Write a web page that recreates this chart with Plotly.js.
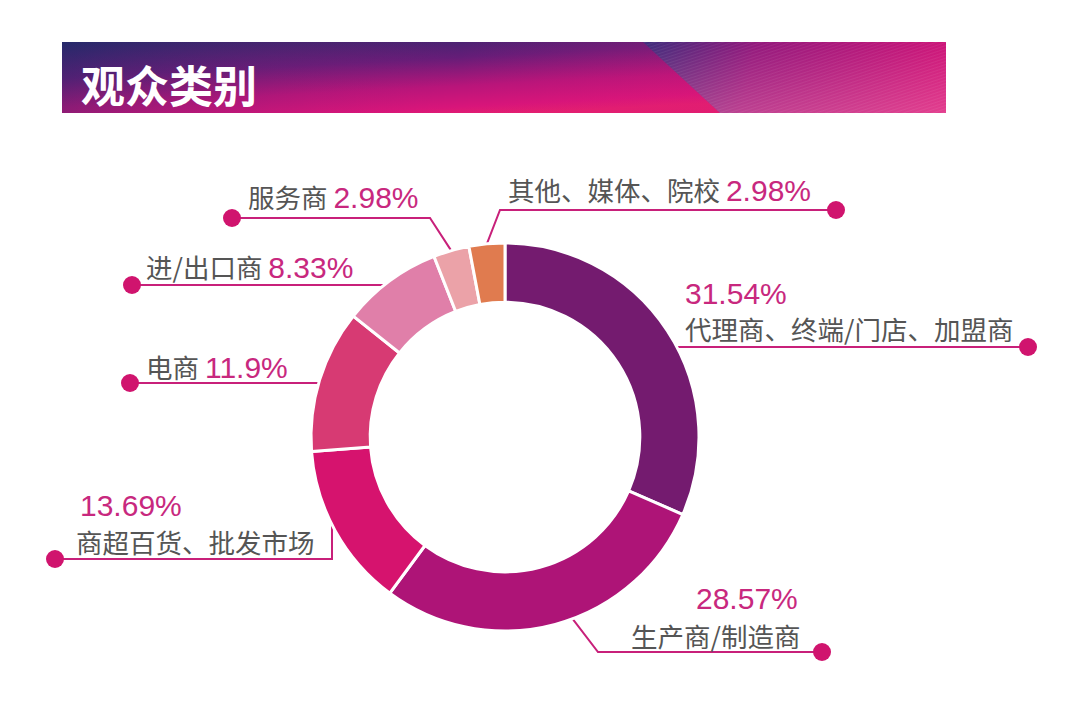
<!DOCTYPE html>
<html>
<head>
<meta charset="utf-8">
<script src="https://cdn.plot.ly/plotly-3.0.1.min.js"></script>
<style>
html, body { margin: 0; padding: 0; background: #fff; }
#chart { width: 1080px; height: 706px; }
</style>
</head>
<body>
<div id="chart"></div>
<script>
// data
const categories = ['代理商、终端/门店、加盟商', '生产商/制造商', '商超百货、批发市场', '电商', '进/出口商', '服务商', '其他、媒体、院校'];
const shares = [31.54, 28.57, 13.69, 11.9, 8.33, 2.98, 2.98];
const sliceColors = ['#741b6f', '#ae1477', '#d6136e', '#d73a73', '#e07fa9', '#eba2a8', '#e07b4f'];
const chartTitle = '观众类别';

const W = 1080, H = 706;
// donut placement (px)
const cx = 505, cy = 437, R = 194;

const nameColor = '#555555';
const pctColor = '#c8287e';
const lineColor = '#c8207a';
const dotColor = '#d0146e';

const px = x => x / W;
const py = y => 1 - y / H;

// mid angle of each slice, degrees clockwise from 12 o'clock
const total = shares.reduce((a, b) => a + b, 0);
let acc = 0;
const midAngles = shares.map(v => { const m = (acc + v / 2) / total * 360; acc += v; return m; });

function onCircleAngle(deg) {
    const a = deg * Math.PI / 180;
    return [cx + R * Math.sin(a), cy - R * Math.cos(a)];
}
function onCircleAtY(y, side) {
    return [cx + side * Math.sqrt(R * R - (y - cy) * (y - cy)), y];
}
function onCircleAtX(x) {
    return [x, cy + Math.sqrt(R * R - (x - cx) * (x - cx))];
}

// callout layout: dot, optional elbow, how the leader meets the ring, and text spots
const callouts = [
    { i: 0, dot: [1028, 347], end: () => onCircleAtY(347, 1),
      texts: [{ x: 683, y: 293, kind: 'pct', anchor: 'left' }, { x: 683, y: 328, kind: 'name', anchor: 'left' }] },
    { i: 1, dot: [822, 652], elbow: [598, 652], end: () => onCircleAngle(159.6),
      texts: [{ x: 800, y: 598, kind: 'pct', anchor: 'right' }, { x: 802, y: 635, kind: 'name', anchor: 'right' }] },
    { i: 2, dot: [55, 559], elbow: [332, 559], end: () => onCircleAtX(332),
      texts: [{ x: 78, y: 505, kind: 'pct', anchor: 'left' }, { x: 74, y: 541, kind: 'name', anchor: 'left' }] },
    { i: 3, dot: [130, 383], end: () => onCircleAtY(383, -1),
      texts: [{ x: 144, y: 366, kind: 'both', anchor: 'left' }] },
    { i: 4, dot: [132, 285], end: () => onCircleAtY(285, -1),
      texts: [{ x: 144, y: 267, kind: 'both', anchor: 'left' }] },
    { i: 5, dot: [232, 218], elbow: [430, 218], end: () => onCircleAngle(midAngles[5]),
      texts: [{ x: 246, y: 196, kind: 'both', anchor: 'left' }] },
    { i: 6, dot: [836, 210], elbow: [500, 210], end: () => onCircleAngle(midAngles[6]),
      texts: [{ x: 506, y: 190, kind: 'both', anchor: 'left' }] }
];

const shapes = [];
const annotations = [];
const nameFont = { family: 'Noto Sans CJK SC, sans-serif', size: 26.5, color: nameColor };
const pctFont = { family: 'Liberation Sans, Arial, sans-serif', size: 30, color: pctColor };

callouts.forEach(c => {
    const pts = [c.dot];
    if (c.elbow) pts.push(c.elbow);
    pts.push(c.end());
    const path = pts.map((p, k) => (k ? 'L' : 'M') + px(p[0]) + ',' + py(p[1])).join(' ');
    shapes.push({ type: 'path', xref: 'paper', yref: 'paper', path: path, layer: 'below',
        line: { color: lineColor, width: 2 } });
    const r = 9;
    shapes.push({ type: 'circle', xref: 'paper', yref: 'paper',
        x0: px(c.dot[0] - r), x1: px(c.dot[0] + r), y0: py(c.dot[1] + r), y1: py(c.dot[1] - r),
        fillcolor: dotColor, line: { width: 0 }, layer: 'below' });

    const pct = shares[c.i] + '%';
    c.texts.forEach(t => {
        let text, font;
        if (t.kind === 'pct') { text = pct; font = pctFont; }
        else if (t.kind === 'name') { text = categories[c.i]; font = nameFont; }
        else {
            text = categories[c.i] + ' <span style="color:' + pctColor + ';font-size:30px;font-family:Liberation Sans, Arial, sans-serif">' + pct + '</span>';
            font = nameFont;
        }
        annotations.push({ xref: 'paper', yref: 'paper', x: px(t.x), y: py(t.y),
            xanchor: t.anchor, yanchor: 'middle', showarrow: false, text: text, font: font });
    });
});

// title banner
const banner = `<svg xmlns='http://www.w3.org/2000/svg' width='884' height='71' viewBox='0 0 884 71' preserveAspectRatio='none'>
<defs>
<linearGradient id='a' gradientUnits='userSpaceOnUse' x1='0' y1='0' x2='5' y2='95'>
<stop offset='0' stop-color='#29296a'/>
<stop offset='0.38' stop-color='#651d78'/>
<stop offset='0.68' stop-color='#b8157a'/>
<stop offset='0.9' stop-color='#d8157a'/>
<stop offset='1' stop-color='#e41f70'/>
</linearGradient>
<linearGradient id='h' gradientUnits='userSpaceOnUse' x1='0' y1='0' x2='884' y2='0'>
<stop offset='0' stop-color='#1c2a6a' stop-opacity='0.3'/>
<stop offset='0.45' stop-color='#d0157a' stop-opacity='0'/>
<stop offset='1' stop-color='#e01a72' stop-opacity='0.45'/>
</linearGradient>
<linearGradient id='b' gradientUnits='userSpaceOnUse' x1='585' y1='0' x2='884' y2='60'>
<stop offset='0' stop-color='#3f2c7c'/>
<stop offset='0.35' stop-color='#92187c'/>
<stop offset='1' stop-color='#cf1478'/>
</linearGradient>
<linearGradient id='c' gradientUnits='userSpaceOnUse' x1='0' y1='0' x2='0' y2='71'>
<stop offset='0' stop-color='#ff7fb0' stop-opacity='0'/>
<stop offset='1' stop-color='#ff7fb0' stop-opacity='0.4'/>
</linearGradient>
<pattern id='p' width='3' height='3' patternUnits='userSpaceOnUse' patternTransform='rotate(-18)'>
<line x1='0' y1='0' x2='3' y2='0' stroke='#ffffff' stroke-opacity='0.12' stroke-width='1'/>
</pattern>
</defs>
<rect width='884' height='71' fill='url(#a)'/>
<rect width='884' height='71' fill='url(#h)'/>
<polygon points='581,0 884,0 884,71 658,71' fill='url(#b)'/>
<polygon points='581,0 884,0 884,71 658,71' fill='url(#c)'/>
<polygon points='581,0 884,0 884,71 658,71' fill='url(#p)'/>
</svg>`;

annotations.push({ xref: 'paper', yref: 'paper', x: px(79), y: py(84), xanchor: 'left', yanchor: 'middle',
    showarrow: false, text: '<b>' + chartTitle + '</b>',
    font: { family: 'Noto Sans CJK SC, sans-serif', size: 44, color: '#ffffff' } });

const trace = {
    type: 'pie',
    labels: categories,
    values: shares,
    sort: false,
    direction: 'clockwise',
    rotation: 0,
    hole: 0.695,
    textinfo: 'none',
    hoverinfo: 'label+percent',
    marker: { colors: sliceColors, line: { color: '#ffffff', width: 3 } },
    domain: { x: [px(cx - R), px(cx + R)], y: [py(cy + R), py(cy - R)] }
};

const layout = {
    width: W,
    height: H,
    margin: { l: 0, r: 0, t: 0, b: 0 },
    paper_bgcolor: '#ffffff',
    showlegend: false,
    shapes: shapes,
    annotations: annotations,
    images: [{
        source: 'data:image/svg+xml;charset=utf-8,' + encodeURIComponent(banner),
        xref: 'paper', yref: 'paper',
        x: px(62), y: py(42), sizex: 884 / W, sizey: 71 / H,
        xanchor: 'left', yanchor: 'top', sizing: 'stretch', layer: 'below'
    }]
};

Plotly.newPlot('chart', [trace], layout, { displayModeBar: false, staticPlot: true });
</script>
</body>
</html>
